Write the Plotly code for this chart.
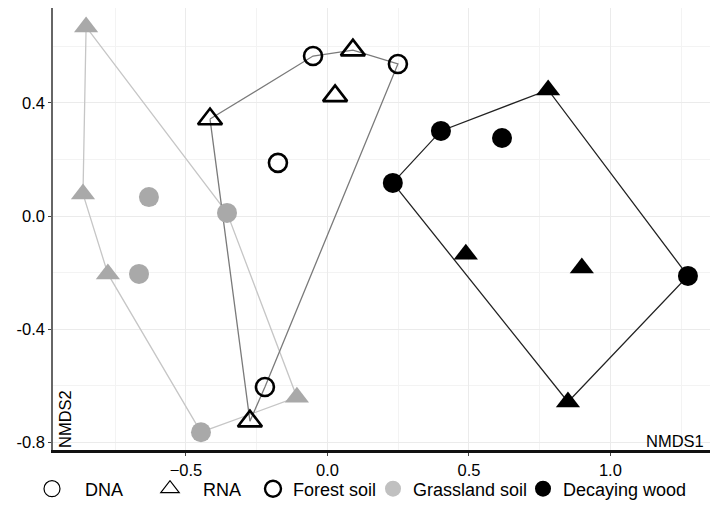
import plotly.graph_objects as go

# ---- data (NMDS scores) ----
forest_dna_x = [-0.051, 0.249, -0.175, -0.221]
forest_dna_y = [0.566, 0.538, 0.188, -0.605]
forest_rna_x = [0.090, 0.027, -0.415, -0.274]
forest_rna_y = [0.587, 0.425, 0.343, -0.726]
forest_hull_x = [-0.415, -0.051, 0.090, 0.249, -0.221, -0.274, -0.415]
forest_hull_y = [0.343, 0.566, 0.587, 0.538, -0.605, -0.726, 0.343]

grass_dna_x = [-0.631, -0.355, -0.666, -0.447]
grass_dna_y = [0.067, 0.011, -0.205, -0.765]
grass_rna_x = [-0.853, -0.864, -0.776, -0.108]
grass_rna_y = [0.669, 0.078, -0.205, -0.641]
grass_hull_x = [-0.853, -0.864, -0.776, -0.447, -0.108, -0.355, -0.853]
grass_hull_y = [0.669, 0.078, -0.205, -0.765, -0.641, 0.011, 0.669]

wood_dna_x = [0.401, 0.617, 0.231, 1.274]
wood_dna_y = [0.301, 0.276, 0.117, -0.212]
wood_rna_x = [0.780, 0.489, 0.899, 0.850]
wood_rna_y = [0.446, -0.135, -0.184, -0.658]
wood_hull_x = [0.231, 0.401, 0.780, 1.274, 0.850, 0.231]
wood_hull_y = [0.117, 0.301, 0.446, -0.212, -0.658, 0.117]

x_ticks = [-0.5, 0.0, 0.5, 1.0]
x_tick_labels = ["\u22120.5", "0.0", "0.5", "1.0"]
y_ticks = [-0.8, -0.4, 0.0, 0.4]
y_tick_labels = ["-0.8", "-0.4", "0.0", "0.4"]

GRAY = "#a9a9a9"
FONT = "Liberation Sans"

fig = go.Figure()

# hull lines
fig.add_trace(go.Scatter(x=grass_hull_x, y=grass_hull_y, mode="lines",
                         line=dict(color="#c6c6c6", width=1.3), showlegend=False, hoverinfo="skip"))
fig.add_trace(go.Scatter(x=forest_hull_x, y=forest_hull_y, mode="lines",
                         line=dict(color="#7a7a7a", width=1.3), showlegend=False, hoverinfo="skip"))
fig.add_trace(go.Scatter(x=wood_hull_x, y=wood_hull_y, mode="lines",
                         line=dict(color="#222222", width=1.3), showlegend=False, hoverinfo="skip"))

# points
fig.add_trace(go.Scatter(x=grass_dna_x, y=grass_dna_y, mode="markers", showlegend=False,
                         marker=dict(symbol="circle", size=20, color=GRAY, line=dict(width=0))))
fig.add_trace(go.Scatter(x=grass_rna_x, y=grass_rna_y, mode="markers", showlegend=False,
                         marker=dict(symbol="triangle-up", size=21, color=GRAY, line=dict(width=0))))
fig.add_trace(go.Scatter(x=forest_dna_x, y=forest_dna_y, mode="markers", showlegend=False,
                         marker=dict(symbol="circle-open", size=18, color="black", line=dict(width=2.6))))
fig.add_trace(go.Scatter(x=forest_rna_x, y=forest_rna_y, mode="markers", showlegend=False,
                         marker=dict(symbol="triangle-up-open", size=21, color="black", line=dict(width=2.6))))
fig.add_trace(go.Scatter(x=wood_dna_x, y=wood_dna_y, mode="markers", showlegend=False,
                         marker=dict(symbol="circle", size=20, color="black", line=dict(width=0))))
fig.add_trace(go.Scatter(x=wood_rna_x, y=wood_rna_y, mode="markers", showlegend=False,
                         marker=dict(symbol="triangle-up", size=21, color="black", line=dict(width=0))))

# legend entries (each in its own legend to place them like the original)
legend_items = [
    ("DNA", "circle-open", "black", 1.2, "legend"),
    ("RNA", "triangle-up-open", "black", 1.2, "legend2"),
    ("Forest soil", "circle-open", "black", 2.4, "legend3"),
    ("Grassland soil", "circle", "#c0c0c0", 0, "legend4"),
    ("Decaying wood", "circle", "black", 0, "legend5"),
]
for name, sym, col, lw, lg in legend_items:
    fig.add_trace(go.Scatter(x=[None], y=[None], mode="markers", name=name, legend=lg,
                             marker=dict(symbol=sym, size=16, color=col, line=dict(width=lw, color=col))))

W, H = 713, 514
L, R, T, B = 53, 3, 8, 64
pw = W - L - R
ph = H - T - B

def px2x(px):
    return (px - L) / pw

leg_y = -(489 - (H - B)) / ph
leg_common = dict(orientation="h", yanchor="middle", y=leg_y, xanchor="left",
                  font=dict(family=FONT, size=18, color="black"), bgcolor="rgba(0,0,0,0)",
                  borderwidth=0)
# (left offset px, itemwidth)
legend_pos = {"legend": (52 - 20 - 13, 56), "legend2": (170 - 20 - 13, 56),
              "legend3": (273 - 20, 30), "legend4": (393 - 20, 30), "legend5": (543 - 20, 30)}
legend_layout = {}
for k, (lp, iw) in legend_pos.items():
    d = dict(leg_common)
    d["x"] = px2x(lp)
    d["itemwidth"] = iw
    legend_layout[k] = d

fig.update_layout(
    width=W, height=H,
    margin=dict(l=L, r=R, t=T, b=B),
    plot_bgcolor="white", paper_bgcolor="white",
    font=dict(family=FONT, size=16.5, color="black"),
    xaxis=dict(range=[-0.97, 1.352], tickvals=x_ticks, ticktext=x_tick_labels,
               showgrid=True, gridcolor="#ebebeb", gridwidth=1,
               minor=dict(dtick=0.25, tick0=0.25, showgrid=True, gridcolor="#f3f3f3", gridwidth=1),
               zeroline=False, showline=True, linecolor="#111111", linewidth=2.5,
               ticks="outside", ticklen=3, tickcolor="#444444",
               tickfont=dict(family=FONT, size=16.5, color="black")),
    yaxis=dict(range=[-0.828, 0.736], tickvals=y_ticks, ticktext=y_tick_labels,
               showgrid=True, gridcolor="#ebebeb", gridwidth=1,
               minor=dict(dtick=0.2, tick0=0.2, showgrid=True, gridcolor="#f3f3f3", gridwidth=1),
               zeroline=False, showline=True, linecolor="#666666", linewidth=1.5,
               ticks="outside", ticklen=3, tickcolor="#444444",
               tickfont=dict(family=FONT, size=16.5, color="black")),
    annotations=[
        dict(text="NMDS1", xref="paper", yref="paper", x=1.0, y=0.0, xanchor="right", yanchor="bottom",
             showarrow=False, font=dict(family=FONT, size=16.5, color="black"), xshift=-4, yshift=-2),
        dict(text="NMDS2", xref="paper", yref="paper", x=0.0, y=0.0, xanchor="left", yanchor="bottom",
             textangle=-90, showarrow=False, font=dict(family=FONT, size=16.5, color="black"), xshift=1),
    ],
    **legend_layout,
)

fig.write_html("out.html")
